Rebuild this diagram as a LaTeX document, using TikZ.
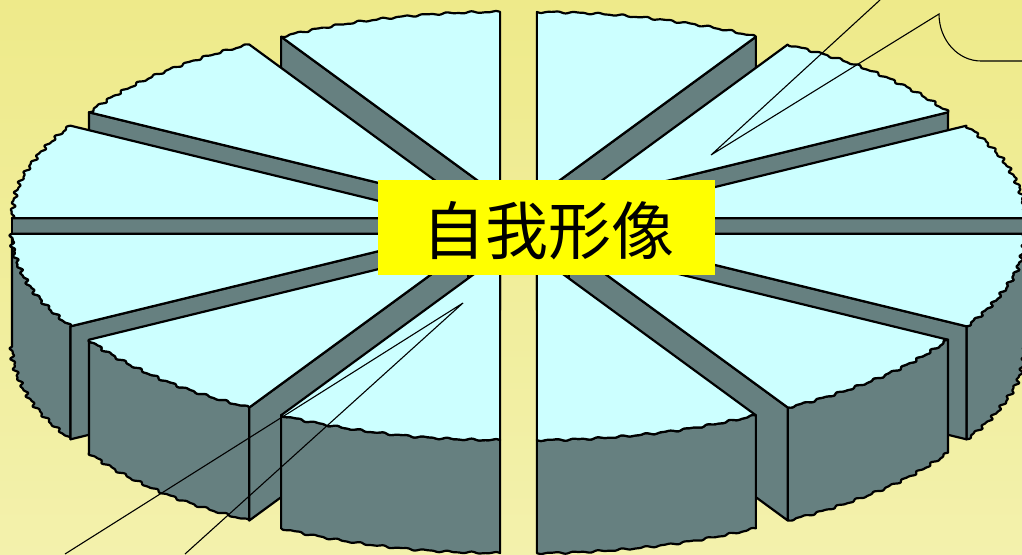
\documentclass[tikz,border=0pt]{standalone}
\usepackage{fontspec}
\newfontfamily\cjkfont{Noto Sans CJK SC}
\definecolor{bgtop}{RGB}{238,234,138}
\definecolor{bgbot}{RGB}{243,241,172}
\definecolor{pietop}{RGB}{204,255,255}
\definecolor{pieside}{RGB}{102,128,128}
\definecolor{lblyellow}{RGB}{255,255,0}
\tikzset{
  face/.style={fill=pietop, draw=black, line width=2.2pt, line join=round},
  side/.style={fill=pieside, draw=black, line width=2.2pt, line join=round},
  pointer/.style={draw=black, line width=1.1pt},
  labelbox/.style={fill=lblyellow, inner sep=0pt, minimum width=337pt, minimum height=95pt},
  labeltext/.style={font=\cjkfont\fontsize{63}{63}\selectfont, inner sep=0pt, xshift=2pt, yshift=-3.5pt}
}
\pgfmathdeclarefunction{wr}{1}{\pgfmathparse{438+1.6*sin(120*#1)+0.9*sin(216*#1)}}
% top face of a slice starting at angle #1 (30 degrees wide)
\newcommand\topface[1]{%
  \path[face,shift={({#1+15}:71)}] (0,0) -- plot[domain=0:30,samples=241]
    ({wr(\x)*cos(#1+\x)},{wr(\x)*sin(#1+\x)}) -- cycle;}
% outer curved wall
\newcommand\outerwall[1]{%
  \path[side,shift={({#1+15}:71)}] plot[domain=0:30,samples=241]
    ({wr(\x)*cos(#1+\x)},{wr(\x)*sin(#1+\x)})
    -- plot[domain=0:30,samples=241]
    ({wr(30-\x)*cos(#1+30-\x)},{wr(30-\x)*sin(#1+30-\x)-267.46}) -- cycle;}
% radial face of slice starting at #1, along edge angle #2
\newcommand\radialface[2]{%
  \path[side,shift={({#1+15}:71)}] (0,0) -- (#2:438) -- ++(0,-267.46) -- (0,-267.46) -- cycle;}
\begin{document}
\begin{tikzpicture}[x=1pt,y=1pt]
\useasboundingbox (0,0) rectangle (1022,-554);
\clip (0,0) rectangle (1022,-554);
\shade[top color=bgtop, bottom color=bgbot] (0,0) rectangle (1022,-554);
\begin{scope}[shift={(518.5,-226)}, y=0.4225pt]
  % back slices
  \radialface{90}{120}\topface{90}
  \radialface{60}{60}\topface{60}
  \radialface{120}{150}\topface{120}
  \radialface{30}{30}\topface{30}
  \radialface{150}{180}\topface{150}
  \radialface{0}{0}\topface{0}
  % front slices
  \outerwall{180}\radialface{180}{210}\topface{180}
  \outerwall{330}\radialface{330}{330}\topface{330}
  \outerwall{210}\radialface{210}{240}\topface{210}
  \outerwall{300}\radialface{300}{300}\topface{300}
  \outerwall{240}\topface{240}
  \outerwall{270}\topface{270}
\end{scope}
\node[labelbox, label={[labeltext]center:自我形像}] (lbl) at (546.5,-227.5) {};
% callout pointers
\coordinate (tipA) at (711,-155);
\coordinate (edgeA) at (880,0);
\coordinate (cornerA) at (939,-14);
\coordinate (endA) at (1022,-61);
\draw[pointer] (edgeA) -- (tipA) -- (cornerA) arc[start angle=180, end angle=270, x radius=42, y radius=47] -- (endA);
\coordinate (tipB) at (463,-303);
\coordinate (edgeB1) at (65,-554);
\coordinate (edgeB2) at (185,-554);
\draw[pointer] (edgeB1) -- (tipB) -- (edgeB2);
\end{tikzpicture}
\end{document}
